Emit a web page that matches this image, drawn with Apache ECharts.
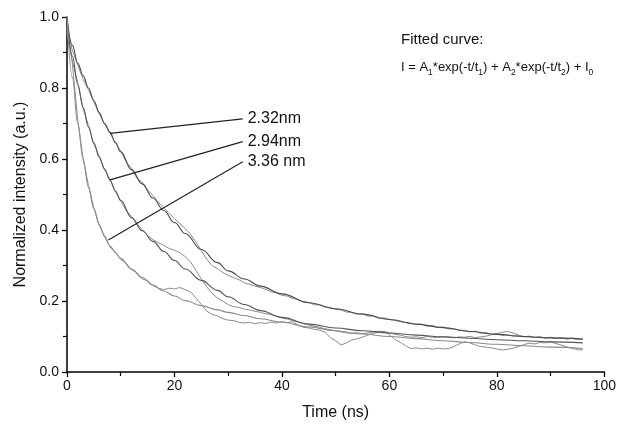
<!DOCTYPE html>
<html>
<head>
<meta charset="utf-8">
<script src="https://cdn.jsdelivr.net/npm/echarts@6/dist/echarts.min.js"></script>
<style>html,body{margin:0;padding:0;background:#fff;}#c{width:619px;height:427px;}</style>
</head>
<body>
<div id="c"></div>
<script>
// measured time axis (ns) for the raw decay traces
const dataTime = [0,1,2,3,4,5,6,7,8,9,10,11,12,13,14,15,16,17,18,19,20,21,22,23,24,25,26,27,28,29,30,31,32,33,34,35,36,37,38,39,40,41,42,43,44,45,46,47,48,49,50,51,52,53,54,55,56,57,58,59,60,61,62,63,64,65,66,67,68,69,70,71,72,73,74,75,76,77,78,79,80,81,82,83,84,85,86,87,88,89,90,91,92,93,94,95,96];
// raw traces
const data232 = [0.97,0.905,0.865,0.825,0.795,0.76,0.728,0.698,0.675,0.644,0.623,0.592,0.574,0.546,0.534,0.512,0.497,0.478,0.463,0.447,0.432,0.418,0.404,0.388,0.366,0.342,0.318,0.3,0.291,0.28,0.272,0.266,0.26,0.251,0.247,0.242,0.238,0.233,0.226,0.223,0.216,0.214,0.207,0.204,0.198,0.196,0.189,0.19,0.183,0.182,0.176,0.175,0.169,0.168,0.163,0.164,0.157,0.158,0.151,0.153,0.148,0.145,0.142,0.139,0.138,0.134,0.135,0.129,0.131,0.125,0.127,0.121,0.122,0.117,0.118,0.113,0.115,0.109,0.111,0.106,0.108,0.103,0.105,0.101,0.103,0.099,0.101,0.097,0.099,0.095,0.098,0.094,0.096,0.093,0.095,0.092,0.093];
const data294 = [0.97,0.875,0.815,0.742,0.694,0.642,0.608,0.569,0.543,0.508,0.483,0.455,0.438,0.418,0.401,0.384,0.373,0.364,0.357,0.348,0.343,0.336,0.325,0.31,0.286,0.262,0.24,0.222,0.208,0.2,0.19,0.184,0.182,0.177,0.175,0.171,0.168,0.164,0.162,0.157,0.152,0.149,0.145,0.141,0.137,0.133,0.129,0.126,0.122,0.119,0.116,0.113,0.11,0.109,0.111,0.108,0.11,0.113,0.115,0.114,0.11,0.106,0.104,0.1,0.098,0.099,0.097,0.1,0.098,0.097,0.1,0.098,0.096,0.099,0.098,0.1,0.097,0.099,0.101,0.105,0.108,0.112,0.114,0.11,0.104,0.1,0.099,0.097,0.099,0.096,0.097,0.095,0.096,0.093,0.095,0.092,0.092];
const data336 = [0.96,0.87,0.71,0.6,0.525,0.462,0.414,0.382,0.352,0.338,0.317,0.307,0.288,0.28,0.262,0.257,0.243,0.236,0.232,0.236,0.234,0.238,0.232,0.226,0.208,0.19,0.172,0.162,0.158,0.15,0.146,0.145,0.14,0.138,0.14,0.136,0.139,0.137,0.141,0.138,0.142,0.139,0.142,0.132,0.126,0.124,0.12,0.118,0.112,0.097,0.088,0.076,0.082,0.09,0.094,0.098,0.104,0.109,0.112,0.114,0.105,0.092,0.084,0.074,0.066,0.068,0.065,0.067,0.064,0.067,0.065,0.066,0.072,0.079,0.085,0.082,0.076,0.072,0.07,0.068,0.065,0.062,0.064,0.067,0.072,0.077,0.081,0.079,0.083,0.082,0.085,0.08,0.076,0.071,0.067,0.063,0.062];
// fitted curves
const fitTime = [0,1,2,3,4,5,6,7,8,9,10,12,14,16,18,20,22,25,28,30,33,36,40,45,50,55,60,65,70,75,80,85,90,96];
const fit232 = [1.0,0.92,0.87,0.835,0.8,0.765,0.73,0.7,0.675,0.647,0.62,0.57,0.53,0.49,0.455,0.421,0.39,0.345,0.308,0.285,0.262,0.242,0.22,0.195,0.178,0.163,0.148,0.135,0.125,0.114,0.106,0.1,0.096,0.093];
const fit294 = [1.0,0.89,0.81,0.745,0.69,0.645,0.605,0.572,0.54,0.51,0.483,0.435,0.398,0.368,0.34,0.314,0.29,0.258,0.23,0.212,0.19,0.173,0.154,0.135,0.124,0.116,0.11,0.104,0.099,0.095,0.091,0.088,0.085,0.082];
const fit336 = [1.0,0.83,0.7,0.6,0.52,0.46,0.415,0.382,0.355,0.336,0.32,0.29,0.266,0.245,0.228,0.214,0.201,0.187,0.175,0.168,0.159,0.15,0.14,0.127,0.116,0.107,0.1,0.094,0.088,0.083,0.078,0.074,0.07,0.066];
// label pointers: [t, I] start -> end
const sizeLabels = ['2.32nm','2.94nm','3.36 nm'];
const pointerStart = [[8.0,0.672],[8.0,0.541],[7.7,0.372]];
const pointerEnd = [[32.7,0.713],[32.7,0.649],[32.7,0.592]];
const xTicks = [0,20,40,60,80,100];
const yTicks = [0.0,0.2,0.4,0.6,0.8,1.0];

const FONT = 'Liberation Sans, Arial, sans-serif';
function zip(a,b){return a.map((v,i)=>[v,b[i]]);}

const series = [];
const dataSets = [data232,data294,data336];
const fitSets = [fit232,fit294,fit336];
const fitColors = ['#4a4a4a','#555555','#8a8a8a'];
dataSets.forEach(d=>{
  series.push({type:'line',data:zip(dataTime,d),showSymbol:false,symbol:'none',
    lineStyle:{color:'#8c8c8c',width:1},z:2});
});
fitSets.forEach((f,i)=>{
  series.push({type:'line',data:zip(fitTime,f),showSymbol:false,symbol:'none',smooth:0.4,smoothMonotone:'x',
    lineStyle:{color:fitColors[i],width:1.1},z:3});
});
sizeLabels.forEach((lab,i)=>{
  series.push({type:'line',symbol:'none',showSymbol:false,
    data:[pointerStart[i],pointerEnd[i]],
    endLabel:{show:true,distance:5,formatter:lab,fontFamily:FONT,fontSize:16,color:'#111'},
    lineStyle:{color:'#222',width:1.2},z:4});
});

const chart = echarts.init(document.getElementById('c'),null,{renderer:'canvas'});
chart.setOption({
  animation:false,
  backgroundColor:'#fff',
  grid:{left:67,right:13,top:17,bottom:55,containLabel:false},
  xAxis:{type:'value',min:0,max:100,interval:20,
    name:'Time (ns)',nameLocation:'middle',nameGap:33,
    nameTextStyle:{fontFamily:FONT,fontSize:16,color:'#111'},
    axisLine:{onZero:false,lineStyle:{color:'#000',width:1.5}},
    axisTick:{show:true,length:5,lineStyle:{color:'#000',width:1.3}},
    minorTick:{show:true,splitNumber:2,length:4,lineStyle:{color:'#000',width:1.2}},
    splitLine:{show:false},
    axisLabel:{fontFamily:FONT,fontSize:14,color:'#111',margin:7,formatter:v=>xTicks.includes(v)?String(v):''}},
  yAxis:{type:'value',min:0,max:1,interval:0.2,
    name:'Normalized intensity (a.u.)',nameLocation:'middle',nameGap:35,nameRotate:90,
    nameTextStyle:{fontFamily:FONT,fontSize:16,color:'#111'},
    axisLine:{onZero:false,lineStyle:{color:'#000',width:1.5}},
    axisTick:{show:true,length:5,lineStyle:{color:'#000',width:1.3}},
    minorTick:{show:true,splitNumber:2,length:4,lineStyle:{color:'#000',width:1.2}},
    splitLine:{show:false},
    axisLabel:{fontFamily:FONT,fontSize:14,color:'#111',margin:8,formatter:v=>v.toFixed(1)}},
  graphic:[
    {type:'text',left:401,top:32,style:{text:'Fitted curve:',fontSize:15,fontFamily:FONT,fill:'#111'}},
    {type:'text',left:401,top:61,style:{
      text:'{m|I = A}{s|1}{m|*exp(-t/t}{s|1}{m|) + A}{s|2}{m|*exp(-t/t}{s|2}{m|) + I}{s|0}',
      fontSize:13,fontFamily:FONT,fill:'#111',
      rich:{m:{fontSize:13,fontFamily:FONT,fill:'#111'},
            s:{fontSize:8.5,fontFamily:FONT,fill:'#111',padding:[10,0,0,0]}}}}
  ],
  series:series
});
</script>
</body>
</html>
